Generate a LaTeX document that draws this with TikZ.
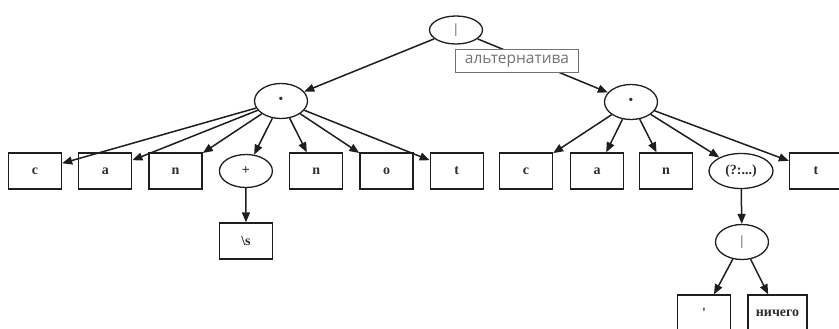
\documentclass[tikz,border=0pt]{standalone}
\usepackage{fontspec}
\setmainfont{Liberation Serif}
\newfontfamily\lblfont{Open Sans}
\usepackage{tikz}
\usetikzlibrary{arrows.meta,shapes.geometric,positioning}
\usepackage{xcolor}
\definecolor{reline}{RGB}{30,30,30}
\definecolor{retext}{RGB}{45,45,45}
\definecolor{relabel}{RGB}{115,115,115}
\tikzstyle{arrow} = [line width=1.5pt,-{Triangle[length=10pt,width=8pt]},color=reline]
\tikzstyle{term} = [rectangle, draw=reline, line width=1.3pt, minimum width=53pt, minimum height=36pt, font=\fontsize{14}{16}\selectfont\bfseries, text=retext]
\tikzstyle{oper} = [ellipse, draw=reline, line width=1.3pt, minimum width=53pt, minimum height=35pt, inner sep=1pt, font=\fontsize{14}{16}\selectfont\bfseries, text=retext]
\tikzstyle{altbox} = [rectangle, draw=relabel, fill=white, line width=1pt, minimum width=123pt, minimum height=23pt, inner sep=2pt, font=\lblfont\fontsize{15.5}{17}\selectfont, text=relabel]

\begin{document}
\begin{tikzpicture}[x=1pt, y=-1pt, node distance=70.3pt]
\useasboundingbox (0,0) rectangle (839,329);
% Root alternation
\node (root) [oper, minimum height=28pt, text=relabel] at (456,30) {|};
\node (dotL) [oper, font=\fontsize{20}{20}\selectfont\bfseries] at (281,101) {·};
\node (dotR) [oper, font=\fontsize{20}{20}\selectfont\bfseries] at (631,102) {·};

% Left branch: c a n (\s+) n o t
\node (l1) [term] at (35,171) {c};
\node (l2) [term, right of=l1] {a};
\node (l3) [term, right of=l2] {n};
\node (l4) [oper, right of=l3, minimum height=33pt] {+};
\node (l5) [term, right of=l4] {n};
\node (l6) [term, right of=l5] {o};
\node (l7) [term, right of=l6] {t};
\node (ws) [term] at (246,241) {\textbackslash s};

% Right branch: c a n (?:...) t
\node (r1) [term] at (526,171) {c};
\node (r2) [term, right of=r1, xshift=0.7pt] {a};
\node (r3) [term, right of=r2, xshift=-1.3pt] {n};
\node (r4) [oper, right of=r3, xshift=4.7pt, minimum width=64pt] {(?:...)};
\node (r5) [term, right of=r4, xshift=4.7pt] {t};
\node (bar) [oper, text=relabel] at (742,242) {|};
\node (apos) [term] at (704,313) {\textquotesingle};
\node (none) [term, minimum width=59pt] at (777.5,313) {ничего};

\draw[arrow] (root) -- (dotL);
\draw[arrow] (root) -- (dotR);
\foreach \n in {l1,l2,l3,l4,l5,l6,l7}
  \draw[arrow] (dotL) -- (\n);
\foreach \n in {r1,r2,r3,r4,r5}
  \draw[arrow] (dotR) -- (\n);
\draw[arrow] (l4) -- (ws);
\draw[arrow] (r4) -- (bar);
\draw[arrow] (bar) -- (apos);
\draw[arrow] (bar) -- (none);

% Label
\node (alt) [altbox] at (517,61.5) {альтернатива};
\end{tikzpicture}
\end{document}
